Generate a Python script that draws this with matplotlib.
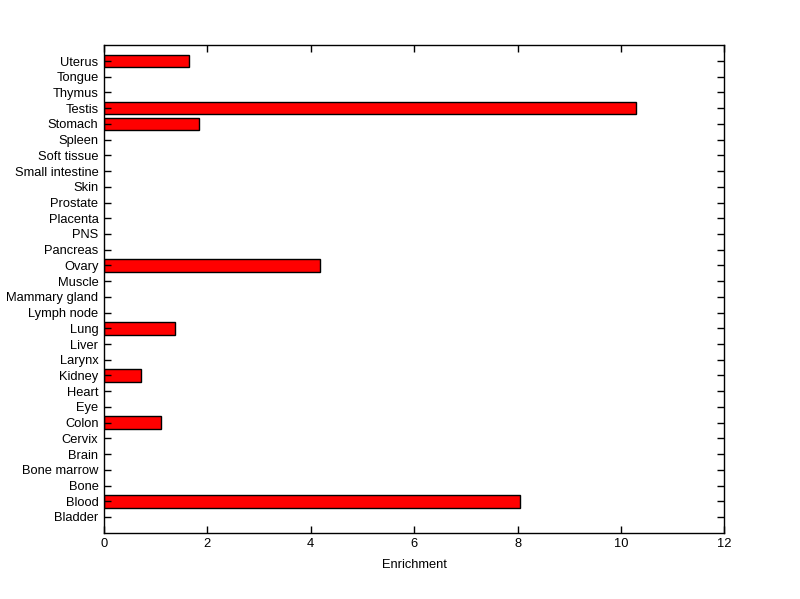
import numpy as np
import matplotlib
matplotlib.use('Agg')
import matplotlib.pyplot as plt

tissues = ['Bladder', 'Blood', 'Bone', 'Bone marrow', 'Brain', 'Cervix', 'Colon',
           'Eye', 'Heart', 'Kidney', 'Larynx', 'Liver', 'Lung', 'Lymph node',
           'Mammary gland', 'Muscle', 'Ovary', 'Pancreas', 'PNS', 'Placenta',
           'Prostate', 'Skin', 'Small intestine', 'Soft tissue', 'Spleen',
           'Stomach', 'Testis', 'Thymus', 'Tongue', 'Uterus']
enrichment = [0, 8.04, 0, 0, 0, 0, 1.11,
              0, 0, 0.72, 0, 0, 1.38, 0,
              0, 0, 4.18, 0, 0, 0,
              0, 0, 0, 0, 0,
              1.84, 10.29, 0, 0, 1.65]

plt.rcParams['font.family'] = ['Liberation Sans', 'DejaVu Sans']
plt.rcParams['font.size'] = 9.3

fig = plt.figure(figsize=(8, 5.99), dpi=100)
ax = fig.add_axes([0.130, 0.1107, 0.7755, 0.8137])

ind = np.arange(1, len(tissues) + 1)
vals = np.array(enrichment)
nz = vals > 0
ax.barh(ind[nz], vals[nz], height=0.8, color='#ff0000', edgecolor='black', linewidth=1)

ax.set_xlim(0, 12)
ax.set_ylim(0, len(tissues) + 1)
ax.set_xticks(np.arange(0, 13, 2))
ax.set_yticks(ind, tissues)
ax.tick_params(direction='in', top=True, right=True, length=5, width=1, pad=4)
for s in ax.spines.values():
    s.set_linewidth(1)
ax.set_xlabel('Enrichment', labelpad=6)

fig.savefig('out.png', dpi=100)
